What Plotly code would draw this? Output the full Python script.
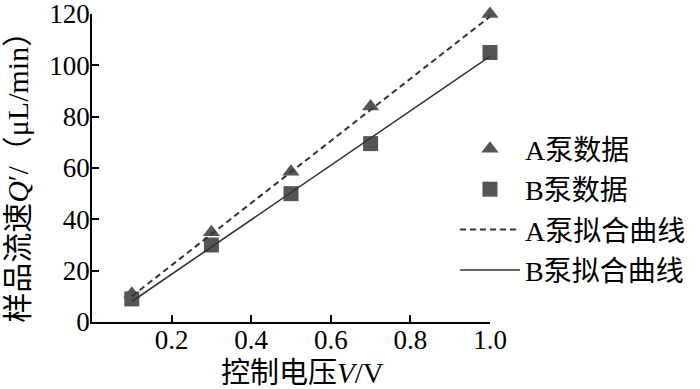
import plotly.graph_objects as go

voltage = [0.1, 0.3, 0.5, 0.7, 1.0]
pump_a = [11, 35, 58.5, 84, 120]
pump_b = [9, 30, 50, 69.5, 105]
fit_x = [0.1, 1.0]
fit_a = [10, 119]
fit_b = [8, 103.5]
x_ticks = [0.2, 0.4, 0.6, 0.8, 1.0]
y_ticks = [0, 20, 40, 60, 80, 100, 120]
x_title = "控制电压<i>V</i>/V"
y_title = "样品流速<i>Q</i>′/（μL/min）"

font_fam = "Liberation Serif, Noto Sans CJK SC, serif"
mcol = "#555555"
lcol = "#333333"

fig = go.Figure()
fig.add_trace(go.Scatter(x=voltage, y=pump_a, mode="markers", name="A泵数据",
                         legendgroup="a", cliponaxis=False,
                         marker=dict(symbol="triangle-up", size=15, color=mcol)))
fig.add_trace(go.Scatter(x=voltage, y=pump_b, mode="markers", name="B泵数据",
                         legendgroup="b", cliponaxis=False,
                         marker=dict(symbol="square", size=15, color=mcol)))
fig.add_trace(go.Scatter(x=fit_x, y=fit_a, mode="lines", name="A泵拟合曲线",
                         legendgroup="c", cliponaxis=False,
                         line=dict(color=lcol, width=2, dash="6px,4px")))
fig.add_trace(go.Scatter(x=fit_x, y=fit_b, mode="lines", name="B泵拟合曲线",
                         legendgroup="d", cliponaxis=False,
                         line=dict(color=lcol, width=1.6)))

fig.update_layout(
    width=700, height=389,
    margin=dict(l=92, r=210, t=14, b=67, autoexpand=False),
    paper_bgcolor="white", plot_bgcolor="white",
    font=dict(family=font_fam, size=26, color="black"),
    showlegend=True,
    legend=dict(x=0.912, xanchor="left", y=0.365, yanchor="middle",
                bgcolor="rgba(0,0,0,0)", tracegroupgap=1, itemwidth=60,
                font=dict(size=28, family=font_fam)),
    annotations=[
        dict(text=x_title, xref="paper", yref="paper", x=0.53, y=-0.166,
             xanchor="center", yanchor="middle", showarrow=False,
             font=dict(size=29)),
        dict(text=y_title, xref="paper", yref="paper", x=-0.186, y=0.494,
             xanchor="center", yanchor="middle", showarrow=False,
             textangle=-90, font=dict(size=30)),
    ],
)
fig.update_xaxes(range=[0, 1.0], tickvals=x_ticks, tickformat=".1f",
                 showline=True, linecolor="black", linewidth=1.5,
                 ticks="inside", ticklen=7, tickwidth=1.5, tickcolor="black",
                 showgrid=False, zeroline=False, automargin=False,
                 ticklabelstandoff=-7, ticklabeloverflow="allow",
                 tickfont=dict(size=27))
fig.update_yaxes(range=[0, 120], tickvals=y_ticks,
                 showline=True, linecolor="black", linewidth=1.5,
                 ticks="inside", ticklen=7, tickwidth=1.5, tickcolor="black",
                 showgrid=False, zeroline=False, automargin=False,
                 ticklabelstandoff=-5, ticklabeloverflow="allow",
                 tickfont=dict(size=27))

fig.write_html("out.html", config={"displayModeBar": False},
               post_script="document.body.style.margin='0';")
